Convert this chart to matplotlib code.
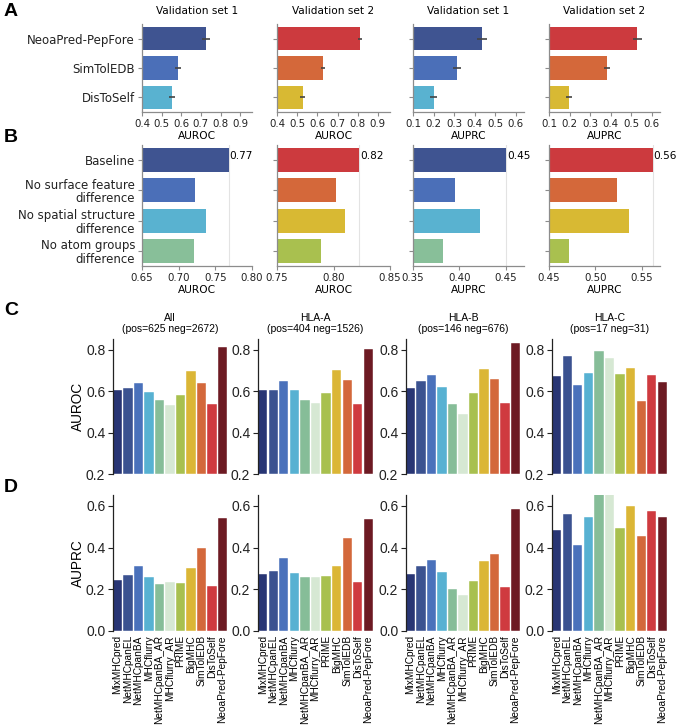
import matplotlib.pyplot as plt
import numpy as np

# ---- panel A: validation sets ----
val_models = ['NeoaPred-PepFore', 'SimTolEDB', 'DisToSelf']
val1_auroc = [0.724, 0.582, 0.552]
val1_auroc_err = [0.02, 0.015, 0.015]
val2_auroc = [0.81, 0.627, 0.527]
val2_auroc_err = [0.01, 0.01, 0.014]
val1_auprc = [0.435, 0.315, 0.2]
val1_auprc_err = [0.024, 0.018, 0.018]
val2_auprc = [0.53, 0.382, 0.197]
val2_auprc_err = [0.02, 0.015, 0.015]

# ---- panel B: ablation ----
ablations = ['Baseline', 'No surface feature\ndifference',
             'No spatial structure\ndifference', 'No atom groups\ndifference']
abl_auroc1 = [0.768, 0.722, 0.737, 0.721]
abl_auroc2 = [0.823, 0.802, 0.81, 0.789]
abl_auprc1 = [0.451, 0.395, 0.422, 0.382]
abl_auprc2 = [0.562, 0.523, 0.537, 0.472]

# ---- panels C/D: benchmark by HLA ----
methods = ['MixMHCpred', 'NetMHCpanEL', 'NetMHCpanBA', 'MHCflurry', 'NetMHCpanBA_AR',
           'MHCflurry_AR', 'PRIME', 'BigMHC', 'SimTolEDB', 'DisToSelf', 'NeoaPred-PepFore']
groups = ['All', 'HLA-A', 'HLA-B', 'HLA-C']
group_counts = ['(pos=625 neg=2672)', '(pos=404 neg=1526)',
                '(pos=146 neg=676)', '(pos=17 neg=31)']
auroc_all = [0.604, 0.615, 0.638, 0.596, 0.555, 0.533, 0.58, 0.697, 0.639, 0.536, 0.811]
auroc_a = [0.608, 0.608, 0.648, 0.604, 0.555, 0.544, 0.592, 0.704, 0.653, 0.536, 0.803]
auroc_b = [0.615, 0.647, 0.676, 0.62, 0.539, 0.491, 0.589, 0.705, 0.658, 0.541, 0.831]
auroc_c = [0.673, 0.771, 0.631, 0.689, 0.795, 0.76, 0.684, 0.71, 0.551, 0.679, 0.646]
auprc_all = [0.246, 0.267, 0.314, 0.258, 0.227, 0.235, 0.232, 0.301, 0.40, 0.214, 0.541]
auprc_a = [0.275, 0.289, 0.352, 0.279, 0.259, 0.26, 0.262, 0.311, 0.446, 0.237, 0.538]
auprc_b = [0.275, 0.312, 0.342, 0.285, 0.20, 0.173, 0.242, 0.337, 0.368, 0.21, 0.587]
auprc_c = [0.483, 0.562, 0.414, 0.547, 0.67, 0.66, 0.496, 0.60, 0.457, 0.573, 0.547]

method_colors = ['#283574', '#3b5290', '#4a71bb', '#57b1d2', '#86bd98', '#d6e8d3',
                 '#a8c04f', '#dbb636', '#d3683b', '#cf3a3f', '#6d1a23']
blue_set = ['#3f5491', '#4b6fb8', '#59b2d0', '#88bf99']
red_set = ['#cc3a3e', '#d4683a', '#d8b933', '#a9c04f']

plt.rcParams['font.family'] = ['DejaVu Sans']
fig = plt.figure(figsize=(6.8, 7.28), dpi=100)
W, H = 680, 728


def axes_px(x0, x1, ytop, ybot):
    return fig.add_axes([x0 / W, 1 - ybot / H, (x1 - x0) / W, (ybot - ytop) / H])


cols_px = [(142, 252), (277, 390), (413, 524), (549, 660)]
grey = '#8c8c8c'


def style_hbar(ax, xlim, ticks, fmt, xlabel, labels=None):
    ax.set_xlim(*xlim)
    ax.set_xticks(ticks)
    ax.set_xticklabels([fmt.format(t) for t in ticks], fontsize=7.4)
    ax.set_xlabel(xlabel, fontsize=7.7, labelpad=1.5)
    for s in ['top', 'right']:
        ax.spines[s].set_visible(False)
    for s in ['left', 'bottom']:
        ax.spines[s].set_color(grey)
        ax.spines[s].set_linewidth(0.9)
    ax.tick_params(colors=grey, labelcolor='#222222', length=3, width=0.8, pad=2)
    if labels is None:
        ax.set_yticklabels([])
    else:
        ax.set_yticklabels(labels, fontsize=8.5, linespacing=1.05)


# Panel A
a_data = [(val1_auroc, val1_auroc_err, blue_set, 'Validation set 1', 'AUROC'),
          (val2_auroc, val2_auroc_err, red_set, 'Validation set 2', 'AUROC'),
          (val1_auprc, val1_auprc_err, blue_set, 'Validation set 1', 'AUPRC'),
          (val2_auprc, val2_auprc_err, red_set, 'Validation set 2', 'AUPRC')]
for i, (vals, errs, cols, title, metric) in enumerate(a_data):
    ax = axes_px(cols_px[i][0], cols_px[i][1], 24, 112)
    y = np.arange(len(vals))
    ax.barh(y, vals, height=0.8, color=cols[:len(vals)])
    ax.errorbar(vals, y, xerr=errs, fmt='none', ecolor='#444444', elinewidth=1.2)
    ax.set_ylim(len(vals) - 0.5, -0.5)
    ax.set_yticks(y)
    ax.set_title(title, fontsize=7.6, pad=7)
    if metric == 'AUROC':
        style_hbar(ax, (0.4, 0.96), [0.4, 0.5, 0.6, 0.7, 0.8, 0.9], '{:.1f}', metric,
                   val_models if i == 0 else None)
    else:
        style_hbar(ax, (0.1, 0.64), [0.1, 0.2, 0.3, 0.4, 0.5, 0.6], '{:.1f}', metric)

# Panel B
b_data = [(abl_auroc1, blue_set, (0.65, 0.80), [0.65, 0.70, 0.75, 0.80], 'AUROC'),
          (abl_auroc2, red_set, (0.75, 0.85), [0.75, 0.80, 0.85], 'AUROC'),
          (abl_auprc1, blue_set, (0.35, 0.47), [0.35, 0.40, 0.45], 'AUPRC'),
          (abl_auprc2, red_set, (0.45, 0.57), [0.45, 0.50, 0.55], 'AUPRC')]
for i, (vals, cols, xlim, ticks, metric) in enumerate(b_data):
    ax = axes_px(cols_px[i][0], cols_px[i][1], 145, 266)
    y = np.arange(len(vals))
    ax.axvline(vals[0], color='#e3e3e3', lw=0.8, zorder=0)
    ax.barh(y, vals, height=0.8, color=cols, zorder=2)
    ax.set_ylim(len(vals) - 0.5, -0.5)
    ax.set_yticks(y)
    style_hbar(ax, xlim, ticks, '{:.2f}', metric, ablations if i == 0 else None)
    ax.text(vals[0] + (xlim[1] - xlim[0]) * 0.01, -0.12, f'{vals[0]:.2f}',
            fontsize=7.6, va='center', ha='left', clip_on=False)

# Panels C and D
arial = 'Liberation Sans'
cd_cols = [(113, 227), (258, 373), (406, 520), (552, 667)]
auroc_groups = [auroc_all, auroc_a, auroc_b, auroc_c]
auprc_groups = [auprc_all, auprc_a, auprc_b, auprc_c]
x = np.arange(len(methods))
bw = 0.88
for row, (data, ytop, ybot, ylim, yt, metric) in enumerate(
        [(auroc_groups, 339, 474, (0.2, 0.852), [0.2, 0.4, 0.6, 0.8], 'AUROC'),
         (auprc_groups, 495, 631, (0.0, 0.652), [0.0, 0.2, 0.4, 0.6], 'AUPRC')]):
    for j, vals in enumerate(data):
        ax = axes_px(cd_cols[j][0], cd_cols[j][1], ytop, ybot)
        ax.bar(x, np.array(vals) - ylim[0], bottom=ylim[0], width=bw,
               color=method_colors, edgecolor='white', linewidth=0.3)
        ax.set_xlim(-bw / 2, len(methods) - 1 + bw / 2)
        ax.set_ylim(*ylim)
        ax.set_yticks(yt)
        ax.set_yticklabels([f'{t:.1f}' for t in yt], fontsize=10, family=arial)
        for s in ['top', 'right', 'bottom']:
            ax.spines[s].set_visible(False)
        ax.spines['left'].set_color('#222222')
        ax.spines['left'].set_linewidth(0.9)
        ax.tick_params(axis='y', length=3.5, width=0.8, pad=2, colors='#222222')
        if row == 0:
            ax.set_xticks([])
            ax.set_title(f'{groups[j]}\n{group_counts[j]}', fontsize=7.5,
                         family=arial, pad=5, linespacing=1.1)
        else:
            ax.set_xticks(x)
            ax.set_xticklabels(methods, rotation=90, fontsize=7.3, family=arial)
            ax.tick_params(axis='x', length=0, pad=3)
        if j == 0:
            ax.set_ylabel(metric, fontsize=9.8, family=arial, labelpad=1)

# panel letters
for letter, ypx in [('A', 12), ('B', 138), ('C', 310), ('D', 488)]:
    fig.text(4 / W, 1 - ypx / H, letter, fontsize=14, fontweight='bold',
             family=arial, va='center', ha='left')

fig.savefig('out.png', dpi=100)
